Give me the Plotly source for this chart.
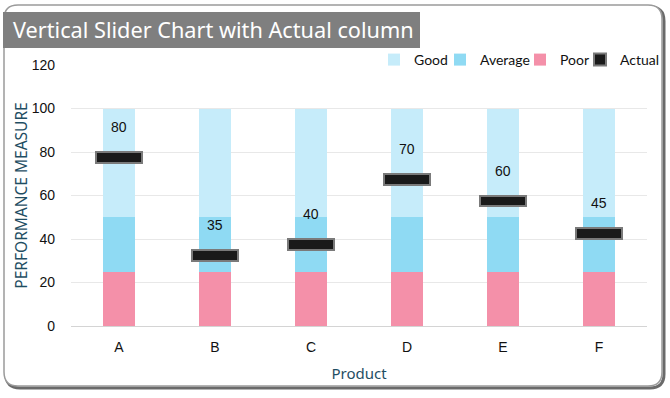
import plotly.graph_objects as go

products = ["A", "B", "C", "D", "E", "F"]
poor = [25, 25, 25, 25, 25, 25]
average = [25, 25, 25, 25, 25, 25]
good = [50, 50, 50, 50, 50, 50]
actual = [80, 35, 40, 70, 60, 45]
slider_thickness = 5

# pixel helpers for decoration (plot area: x 71..647, y 65..326)
L, R, T, B = 71, 647, 65, 326
def PX(p): return (p - L) / (R - L)
def PY(p): return (B - p) / (B - T)

poor_base = [0] * len(products)
avg_base = [p for p in poor]
good_base = [p + a for p, a in zip(poor, average)]

fig = go.Figure()
fig.add_trace(go.Bar(x=products, y=poor, base=poor_base, name="Poor", width=0.34,
                     marker=dict(color="#f490a9", line=dict(width=0)), legend="legend3"))
fig.add_trace(go.Bar(x=products, y=average, base=avg_base, name="Average", width=0.34,
                     marker=dict(color="#8fdaf3", line=dict(width=0)), legend="legend2"))
fig.add_trace(go.Bar(x=products, y=good, base=good_base, name="Good", width=0.34,
                     marker=dict(color="#c6ecfa", line=dict(width=0)), legend="legend"))
fig.add_trace(go.Bar(x=products, y=[slider_thickness] * len(products),
                     base=[v - slider_thickness for v in actual], name="Actual", width=0.48,
                     marker=dict(color="#1a1a1a", line=dict(color="#7a7a7a", width=2)),
                     legend="legend4"))

for p, v in zip(products, actual):
    fig.add_annotation(x=p, y=v, text=str(v), showarrow=False, yanchor="bottom",
                       yshift=15, font=dict(family="Liberation Sans, Arial", size=14, color="#111"))

# outer rounded border with shadow
def rrect(x0, y0, x1, y1, r):
    rx = r / (R - L); ry = r / (B - T)
    X0, X1 = PX(x0), PX(x1)
    Y0, Y1 = PY(y0), PY(y1)
    return (f"M {X0+rx},{Y0} L {X1-rx},{Y0} Q {X1},{Y0} {X1},{Y0-ry} "
            f"L {X1},{Y1+ry} Q {X1},{Y1} {X1-rx},{Y1} L {X0+rx},{Y1} "
            f"Q {X0},{Y1} {X0},{Y1+ry} L {X0},{Y0-ry} Q {X0},{Y0} {X0+rx},{Y0} Z")

shapes = [
    dict(type="path", xref="paper", yref="paper", path=rrect(6, 7, 664, 388, 14),
         line=dict(color="#6a6a6a", width=3), layer="below"),
    dict(type="path", xref="paper", yref="paper", path=rrect(4, 5, 662, 386, 14),
         line=dict(color="#9a9a9a", width=1.5), fillcolor="white", layer="below"),
    dict(type="rect", xref="paper", yref="paper", x0=PX(3), x1=PX(420), y0=PY(12), y1=PY(48),
         fillcolor="#7f7f7f", line=dict(width=0), layer="above"),
]

fig.add_annotation(xref="paper", yref="paper", x=PX(11), y=PY(30), xanchor="left",
                   yanchor="middle", showarrow=False,
                   text="Vertical Slider Chart with Actual column",
                   font=dict(family="Noto Sans, Lato", size=21.7, color="white"))

legend_font = dict(family="Lato, Noto Sans", size=14, color="#111")
def leg(text_start_px):
    return dict(orientation="h", x=PX(text_start_px - 37), xanchor="left", y=PY(60),
                yanchor="middle", font=legend_font, itemwidth=30,
                bgcolor="rgba(0,0,0,0)")

fig.update_layout(
    width=670, height=398,
    margin=dict(l=L, r=670 - R, t=T, b=398 - B, autoexpand=False),
    paper_bgcolor="white", plot_bgcolor="rgba(0,0,0,0)",
    barmode="overlay", bargap=0,
    shapes=shapes,
    showlegend=True,
    legend=leg(411), legend2=leg(477), legend3=leg(557), legend4=leg(617),
    xaxis=dict(title=dict(text="Product", font=dict(family="Noto Sans, Lato", size=15, color="#1f4e63"),
                          standoff=14),
               tickfont=dict(family="Liberation Sans, Arial", size=14, color="#111"),
               showline=True, linecolor="#d4d4d4", linewidth=1, ticks="", showgrid=False,
               ticklabelstandoff=8),
    yaxis=dict(title=dict(text="PERFORMANCE MEASURE",
                          font=dict(family="Noto Sans, Lato", size=15.5, color="#1f4e63"), standoff=0),
               range=[0, 120], dtick=20, tickfont=dict(family="Liberation Sans, Arial", size=14, color="#111"),
               showgrid=True, gridcolor="#e8e8e8", gridwidth=1, zeroline=False, ticks="",
               ticklabelstandoff=15),
)

fig.write_html("out.html", post_script="document.body.style.margin='0';",
               config={"displayModeBar": False})
